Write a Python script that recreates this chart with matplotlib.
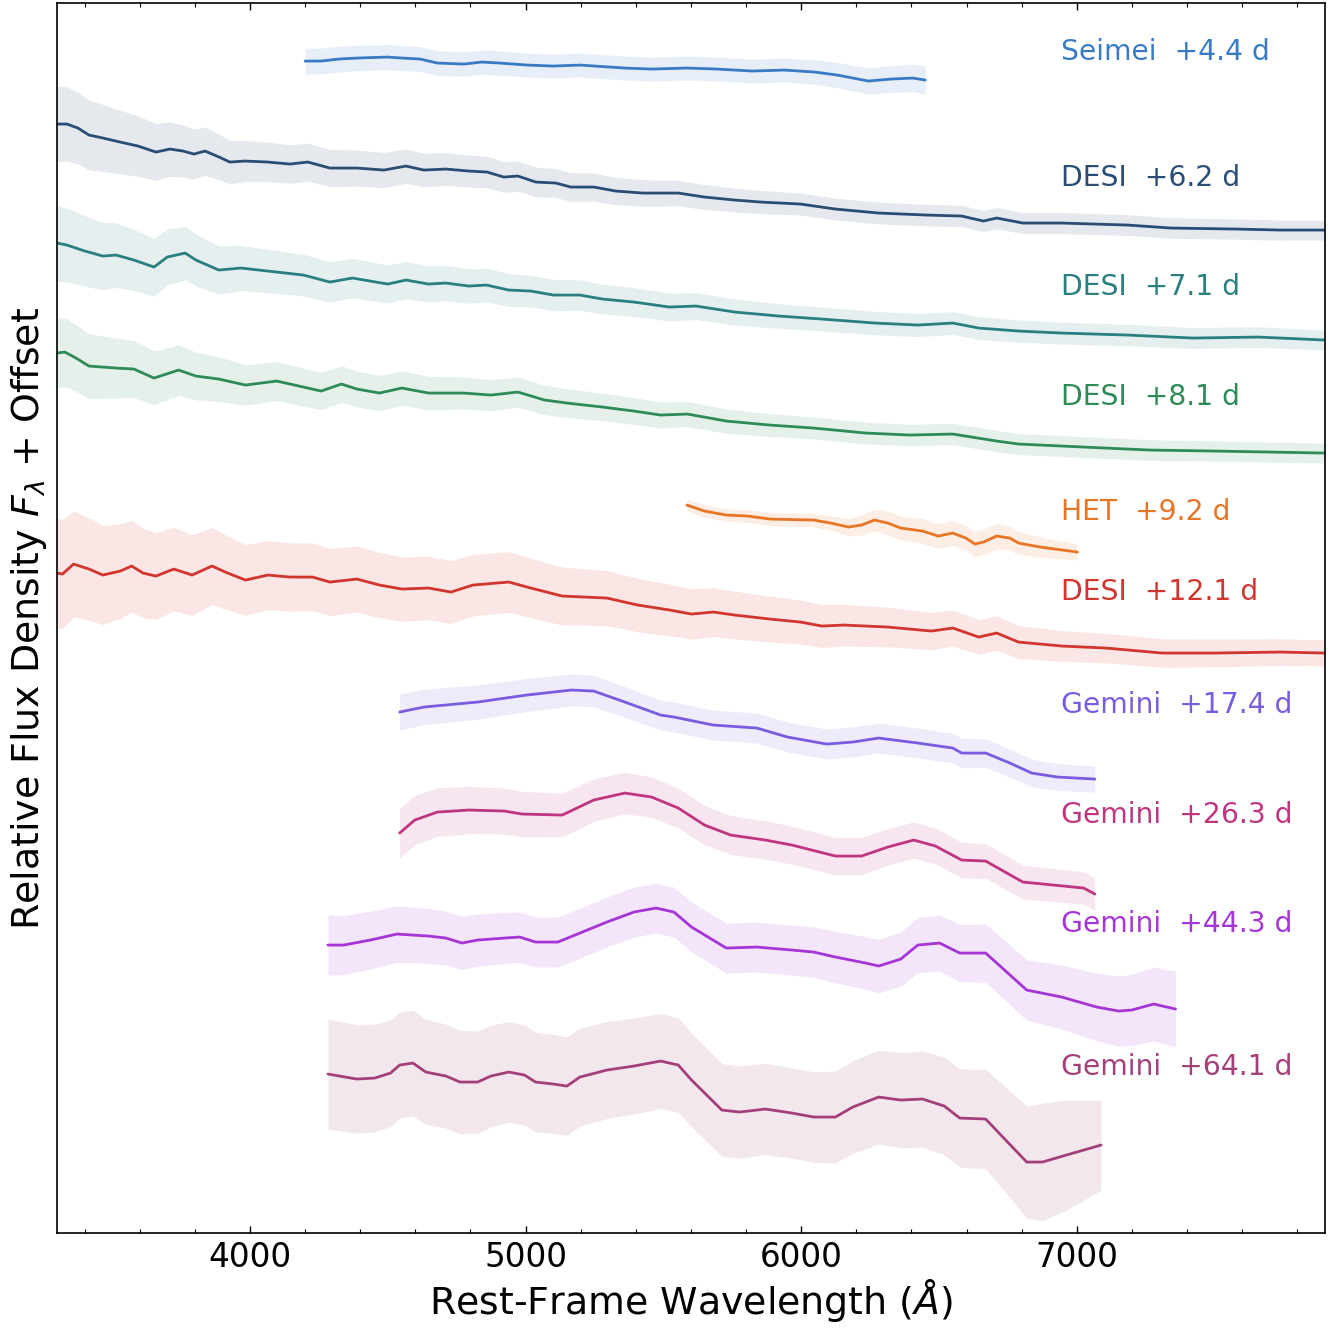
import numpy as np
import matplotlib
matplotlib.use("Agg")
import matplotlib.pyplot as plt
from matplotlib.ticker import MultipleLocator

# ---------------- data (smoothed spectra, flux + offset, arbitrary units) ----------------
labels = ["Seimei  +4.4 d", "DESI  +6.2 d", "DESI  +7.1 d", "DESI  +8.1 d", "HET  +9.2 d",
          "DESI  +12.1 d", "Gemini  +17.4 d", "Gemini  +26.3 d", "Gemini  +44.3 d", "Gemini  +64.1 d"]
colors = ["#3a7ac4", "#2a4d75", "#2a7f7f", "#2e8b57", "#e87526",
          "#d1352e", "#7a5ce0", "#c0357f", "#a535d6", "#a3407a"]
label_y = [11.81, 10.55, 9.46, 8.36, 7.21, 6.41, 5.28, 4.18, 3.09, 1.66]

seimei_wl = [4200, 4258, 4323, 4389, 4500, 4551, 4617, 4680, 4776, 4842, 4907, 5005, 5101, 5197,
             5360, 5458, 5587, 5694, 5823, 5937, 6049, 6131, 6244, 6325, 6405, 6450]
seimei_fl = [11.72, 11.72, 11.74, 11.75, 11.76, 11.75, 11.74, 11.70, 11.69, 11.71, 11.70, 11.68, 11.67, 11.68,
             11.65, 11.64, 11.65, 11.64, 11.62, 11.63, 11.61, 11.58, 11.52, 11.54, 11.55, 11.53]
seimei_noise = ([4200, 5000, 6000, 6450], [0.13, 0.12, 0.12, 0.14])

desi1_wl = [3300, 3336, 3376, 3416, 3467, 3529, 3594, 3659, 3710, 3757, 3797, 3837, 3888, 3927, 3982,
            4065, 4145, 4210, 4290, 4388, 4486, 4566, 4631, 4711, 4794, 4860, 4921, 4972, 5037, 5110,
            5164, 5248, 5327, 5425, 5554, 5649, 5759, 5853, 5997, 6124, 6281, 6456, 6582, 6661, 6709,
            6804, 6945, 7184, 7341, 7580, 7736, 7900]
desi1_fl = [11.09, 11.09, 11.05, 10.98, 10.95, 10.91, 10.87, 10.81, 10.84, 10.82, 10.79, 10.82, 10.76, 10.71, 10.72,
            10.71, 10.69, 10.71, 10.65, 10.65, 10.63, 10.67, 10.63, 10.64, 10.62, 10.61, 10.56, 10.57, 10.51, 10.50,
            10.46, 10.46, 10.42, 10.40, 10.40, 10.36, 10.33, 10.31, 10.29, 10.24, 10.20, 10.18, 10.17, 10.12, 10.15,
            10.10, 10.10, 10.08, 10.05, 10.04, 10.03, 10.03]
desi1_noise = ([3300, 3600, 4000, 5000, 6000, 7900], [0.38, 0.30, 0.20, 0.15, 0.11, 0.10])

desi2_wl = [3300, 3336, 3401, 3466, 3514, 3579, 3652, 3700, 3765, 3804, 3887, 3967, 4065, 4194, 4290,
            4372, 4500, 4566, 4648, 4711, 4794, 4858, 4939, 5019, 5101, 5197, 5279, 5393, 5522, 5618,
            5759, 5919, 6075, 6267, 6423, 6550, 6644, 6789, 6945, 7184, 7420, 7658, 7900]
desi2_fl = [9.90, 9.88, 9.82, 9.77, 9.78, 9.73, 9.66, 9.76, 9.80, 9.73, 9.63, 9.65, 9.62, 9.58, 9.51,
            9.55, 9.49, 9.53, 9.49, 9.50, 9.47, 9.48, 9.43, 9.42, 9.38, 9.38, 9.34, 9.31, 9.26, 9.27,
            9.21, 9.17, 9.14, 9.10, 9.08, 9.10, 9.05, 9.02, 9.00, 8.98, 8.95, 8.96, 8.93]
desi2_noise = ([3300, 3600, 4000, 5000, 6000, 7900], [0.38, 0.30, 0.22, 0.16, 0.12, 0.10])

desi3_wl = [3300, 3328, 3369, 3416, 3514, 3579, 3652, 3741, 3804, 3887, 3984, 4097, 4210, 4258, 4332,
            4388, 4470, 4551, 4648, 4776, 4874, 4972, 5069, 5150, 5279, 5393, 5490, 5587, 5728, 5886,
            6045, 6234, 6393, 6550, 6709, 6789, 7025, 7264, 7502, 7900]
desi3_fl = [8.80, 8.81, 8.75, 8.67, 8.65, 8.64, 8.55, 8.63, 8.57, 8.54, 8.48, 8.52, 8.45, 8.42, 8.49,
            8.44, 8.40, 8.45, 8.40, 8.40, 8.38, 8.41, 8.33, 8.30, 8.26, 8.22, 8.18, 8.19, 8.12, 8.08,
            8.05, 8.00, 7.98, 7.99, 7.92, 7.89, 7.86, 7.83, 7.82, 7.80]
desi3_noise = ([3300, 3600, 4000, 5000, 6000, 7900], [0.35, 0.28, 0.20, 0.15, 0.11, 0.10])

het_wl = [5585, 5649, 5728, 5806, 5886, 6045, 6107, 6171, 6219, 6266, 6314, 6361, 6440, 6497, 6550,
          6597, 6630, 6661, 6709, 6757, 6788, 6867, 7002]
het_fl = [7.28, 7.22, 7.18, 7.17, 7.14, 7.13, 7.10, 7.06, 7.08, 7.13, 7.10, 7.05, 7.02, 6.97, 7.00,
          6.95, 6.89, 6.91, 6.97, 6.95, 6.90, 6.86, 6.81]
het_noise = ([5585, 6100, 6300, 6700, 7002], [0.06, 0.07, 0.12, 0.13, 0.08])

desi4_wl = [3300, 3320, 3360, 3416, 3466, 3530, 3571, 3612, 3659, 3724, 3790, 3862, 3919, 3984, 4065,
            4145, 4227, 4290, 4388, 4470, 4551, 4648, 4729, 4809, 4939, 5019, 5133, 5295, 5407, 5523,
            5602, 5681, 5759, 5886, 5997, 6075, 6155, 6314, 6472, 6550, 6644, 6709, 6788, 6945, 7105,
            7310, 7500, 7736, 7900]
desi4_fl = [6.60, 6.59, 6.69, 6.64, 6.58, 6.62, 6.67, 6.60, 6.57, 6.64, 6.58, 6.67, 6.60, 6.53, 6.58,
            6.56, 6.56, 6.51, 6.54, 6.48, 6.44, 6.45, 6.41, 6.48, 6.51, 6.45, 6.37, 6.35, 6.28, 6.23,
            6.19, 6.21, 6.18, 6.14, 6.11, 6.07, 6.08, 6.06, 6.02, 6.05, 5.96, 6.00, 5.91, 5.87, 5.85,
            5.80, 5.80, 5.81, 5.80]
desi4_noise = ([3300, 3600, 4000, 5000, 6000, 7000, 7900], [0.55, 0.45, 0.35, 0.30, 0.22, 0.15, 0.13])

gem1_wl = [4543, 4631, 4826, 5004, 5166, 5247, 5360, 5490, 5538, 5681, 5839, 5950, 6092, 6187, 6281,
           6423, 6550, 6582, 6669, 6757, 6836, 6930, 7065]
gem1_fl = [5.21, 5.26, 5.31, 5.38, 5.43, 5.42, 5.31, 5.18, 5.16, 5.08, 5.05, 4.96, 4.89, 4.91, 4.95,
           4.90, 4.85, 4.80, 4.80, 4.70, 4.60, 4.56, 4.54]
gem1_noise = ([4543, 5500, 6500, 7065], [0.18, 0.15, 0.15, 0.13])

gem2_wl = [4543, 4598, 4680, 4794, 4923, 4987, 5133, 5247, 5360, 5457, 5554, 5649, 5744, 5870, 5966,
           6124, 6219, 6314, 6408, 6487, 6582, 6669, 6804, 7025, 7065]
gem2_fl = [4.00, 4.13, 4.21, 4.23, 4.22, 4.19, 4.18, 4.33, 4.40, 4.36, 4.25, 4.08, 3.98, 3.93, 3.88,
           3.77, 3.77, 3.86, 3.93, 3.87, 3.73, 3.72, 3.51, 3.45, 3.39]
gem2_noise = ([4543, 5500, 6500, 7065], [0.25, 0.20, 0.18, 0.16])

gem3_wl = [4283, 4340, 4437, 4533, 4648, 4711, 4769, 4826, 4923, 4979, 5036, 5117, 5197, 5295, 5393,
           5473, 5538, 5602, 5728, 5839, 5966, 6045, 6124, 6234, 6281, 6361, 6423, 6502, 6575, 6669,
           6818, 6945, 7072, 7152, 7199, 7279, 7358]
gem3_fl = [2.88, 2.88, 2.93, 2.99, 2.97, 2.95, 2.90, 2.93, 2.95, 2.96, 2.91, 2.91, 3.00, 3.11, 3.21,
           3.25, 3.21, 3.06, 2.85, 2.86, 2.83, 2.81, 2.76, 2.70, 2.67, 2.74, 2.88, 2.90, 2.80, 2.80,
           2.43, 2.36, 2.26, 2.22, 2.23, 2.29, 2.24]
gem3_noise = ([4283, 5000, 6000, 6800, 7358], [0.30, 0.25, 0.25, 0.30, 0.38])

gem4_wl = [4283, 4388, 4453, 4510, 4543, 4591, 4638, 4711, 4762, 4826, 4874, 4939, 4996, 5036, 5101,
           5150, 5197, 5295, 5393, 5490, 5554, 5602, 5712, 5776, 5870, 5966, 6045, 6124, 6187, 6281,
           6361, 6440, 6519, 6575, 6669, 6818, 6875, 6962, 7088]
gem4_fl = [1.59, 1.54, 1.55, 1.60, 1.68, 1.70, 1.61, 1.57, 1.51, 1.51, 1.57, 1.61, 1.58, 1.51, 1.49,
           1.47, 1.56, 1.63, 1.67, 1.72, 1.68, 1.53, 1.23, 1.21, 1.24, 1.20, 1.16, 1.16, 1.26, 1.36,
           1.33, 1.34, 1.27, 1.15, 1.14, 0.71, 0.71, 0.78, 0.88]
gem4_noise = ([4283, 5000, 6000, 6700, 6900, 7088], [0.55, 0.50, 0.45, 0.50, 0.60, 0.45])

spectra = [
    (seimei_wl, seimei_fl, seimei_noise),
    (desi1_wl, desi1_fl, desi1_noise),
    (desi2_wl, desi2_fl, desi2_noise),
    (desi3_wl, desi3_fl, desi3_noise),
    (het_wl, het_fl, het_noise),
    (desi4_wl, desi4_fl, desi4_noise),
    (gem1_wl, gem1_fl, gem1_noise),
    (gem2_wl, gem2_fl, gem2_noise),
    (gem3_wl, gem3_fl, gem3_noise),
    (gem4_wl, gem4_fl, gem4_noise),
]

# ---------------- figure ----------------
plt.rcParams['font.family'] = ['DejaVu Sans']
plt.rcParams['mathtext.fontset'] = 'dejavusans'
fig = plt.figure(figsize=(13.32, 13.28), dpi=100)
ax = fig.add_axes([0.0428, 0.0715, 0.9519, 0.9262])

for (wl, fl, (nk, na)), col, lab, ly in zip(spectra, colors, labels, label_y):
    wl = np.asarray(wl, float)
    fl = np.asarray(fl, float)
    amp = np.interp(wl, nk, na)
    ax.fill_between(wl, fl - amp, fl + amp, color=col, alpha=0.12, lw=0)
    ax.plot(wl, fl, color=col, lw=2.0, solid_capstyle='round', solid_joinstyle='round')
    ax.text(6942, ly, lab, color=col, fontsize=20.3, va='center', ha='left')

ax.set_xlim(3300, 7900)
ax.set_ylim(0, 12.30)
ax.xaxis.set_major_locator(MultipleLocator(1000))
ax.xaxis.set_minor_locator(MultipleLocator(200))
ax.tick_params(axis='x', which='both', direction='in', top=True, bottom=True, labelsize=23.5, pad=6)
ax.tick_params(axis='x', which='major', length=5, width=1.0)
ax.tick_params(axis='x', which='minor', length=3, width=0.8)
ax.tick_params(axis='y', which='both', left=False, labelleft=False)
for s in ax.spines.values():
    s.set_linewidth(1.2)

ax.set_xlabel(r"Rest-Frame Wavelength ($\AA$)", fontsize=27.3, labelpad=2)
ax.set_ylabel(r"Relative Flux Density $F_{\lambda}$ + Offset", fontsize=27.3, labelpad=6)

fig.savefig("out.png", dpi=100)
